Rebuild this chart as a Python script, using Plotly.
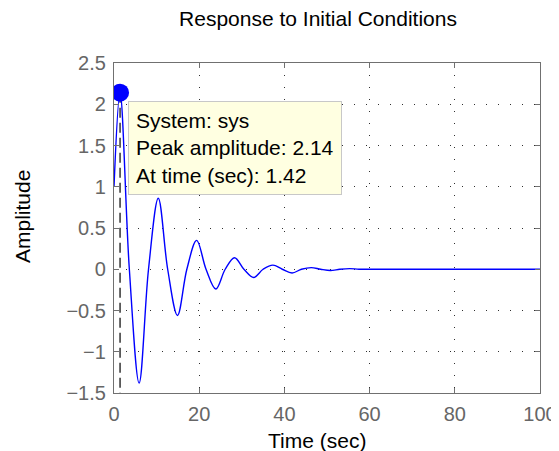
import plotly.graph_objects as go

# Data: extrema and zero crossings of the response
time_s = [0.0, 1.42, 3.6, 5.9, 8.1, 10.4, 12.6, 14.9, 17.1, 19.4, 21.6, 23.9, 26.1,
          28.3, 30.5, 32.8, 35.0, 37.3, 39.5, 41.8, 44.0, 46.3, 48.5, 50.8, 53.0,
          55.3, 57.5, 60.0, 70.0, 85.0, 100.0]
amplitude = [1.0, 2.14, 0.0, -1.38, 0.0, 0.86, 0.0, -0.56, 0.0, 0.35, 0.0, -0.24, 0.0,
             0.14, 0.0, -0.10, 0.0, 0.05, 0.0, -0.045, 0.0, 0.02, 0.0, -0.015, 0.0,
             0.008, 0.0, 0.0, 0.0, 0.0, 0.0]

peak_time = 1.42
peak_amp = 2.14

x_ticks = [0, 20, 40, 60, 80, 100]
y_ticks = [-1.5, -1, -0.5, 0, 0.5, 1, 1.5, 2, 2.5]
y_tick_text = ["\u22121.5", "\u22121", "\u22120.5", "0", "0.5", "1", "1.5", "2", "2.5"]

FONT = "Liberation Sans, Arial, sans-serif"
# page body has an 8px margin, so the figure is drawn offset by (8, 8)
OFF = 8
W, H = 559 - OFF, 451 - OFF
L, R, T, B = 114 - OFF, 19, 63 - OFF, 58

fig = go.Figure()

fig.add_trace(go.Scatter(
    x=time_s, y=amplitude, mode="lines",
    line=dict(color="#0000ff", width=1.4, shape="spline", smoothing=1.0),
    hoverinfo="skip", showlegend=False))

# dashed guide from the peak down to the axis
fig.add_trace(go.Scatter(
    x=[peak_time, peak_time], y=[peak_amp, -1.5], mode="lines",
    line=dict(color="black", width=1.2, dash="10px,5px"),
    hoverinfo="skip", showlegend=False))

fig.add_trace(go.Scatter(
    x=[peak_time], y=[peak_amp], mode="markers",
    marker=dict(color="#0000ff", size=18, line=dict(width=0)),
    hoverinfo="skip", showlegend=False))

fig.add_annotation(
    x=peak_time, y=peak_amp, xref="x", yref="y",
    text="System: sys<br>Peak amplitude: %.2f<br>At time (sec): %.2f" % (peak_amp, peak_time),
    showarrow=False, xanchor="left", yanchor="top", align="left",
    xshift=8, yshift=-8,
    font=dict(family=FONT, size=21, color="black"),
    bgcolor="#ffffe1", bordercolor="#c8c8c8", borderwidth=1, borderpad=7)

axis_common = dict(
    showline=True, linecolor="#707070", linewidth=1.2, mirror="ticks",
    ticks="inside", ticklen=5, tickcolor="#707070",
    showgrid=True, gridcolor="#303030", gridwidth=1, griddash="1px,11px",
    zeroline=False, automargin=False,
    tickfont=dict(family=FONT, size=20, color="#666666"),
)

fig.update_xaxes(range=[0, 100], tickvals=x_ticks, ticklabelstandoff=3, **axis_common)
fig.update_yaxes(range=[-1.5, 2.5], tickvals=y_ticks, ticktext=y_tick_text,
                 ticklabelstandoff=3, **axis_common)

PW, PH = W - L - R, H - T - B

# axis titles placed in pixel positions (window coordinates minus offset)
fig.add_annotation(text="Time (sec)", xref="paper", yref="paper",
                   x=(317 - OFF - L) / PW, y=-((440 - OFF) - (H - B)) / PH,
                   xanchor="center", yanchor="middle", showarrow=False,
                   font=dict(family=FONT, size=21, color="black"))
fig.add_annotation(text="Amplitude", xref="paper", yref="paper",
                   x=-(L - (22 - OFF)) / PW, y=(H - B - (217 - OFF)) / PH,
                   xanchor="center", yanchor="middle", textangle=-90, showarrow=False,
                   font=dict(family=FONT, size=21, color="black"))

fig.update_layout(
    width=W, height=H,
    margin=dict(l=L, r=R, t=T, b=B),
    paper_bgcolor="white", plot_bgcolor="white",
    title=dict(text="Response to Initial Conditions", x=(318 - OFF) / W, xanchor="center",
               y=1 - (19 - OFF) / H, yanchor="middle",
               font=dict(family=FONT, size=21, color="black")),
)

fig.write_html("out.html")
